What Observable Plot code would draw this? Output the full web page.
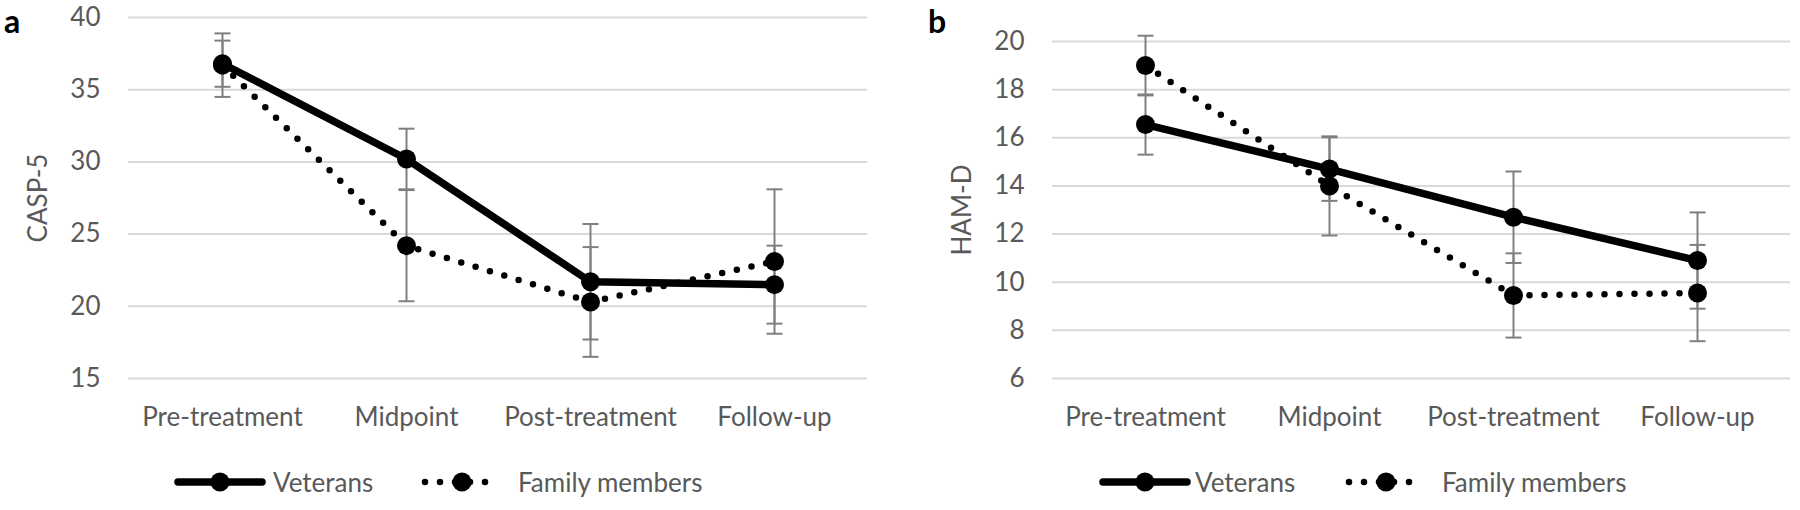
<!DOCTYPE html>
<html>
<head>
<meta charset="utf-8">
<script src="https://cdn.jsdelivr.net/npm/d3@7"></script>
<script src="https://cdn.jsdelivr.net/npm/@observablehq/plot@0.6"></script>
<style>
  html, body { margin: 0; padding: 0; background: #fff; }
  #root { position: relative; width: 1800px; height: 510px; overflow: hidden; font-family: Lato, sans-serif; }
  .panel { position: absolute; top: 0; height: 510px; }
  .letter { position: absolute; font-family: Lato, sans-serif; font-weight: 700; font-size: 32px; line-height: normal; color: #000; }
  .lg-swatch { position: absolute; top: 470px; }
  .lg-text { position: absolute; top: 469px; font-size: 26px; line-height: 26px; color: #595959; white-space: nowrap; }
</style>
</head>
<body>
<div id="root"></div>
<script>
// ---- data ----
const categories = ["Pre-treatment", "Midpoint", "Post-treatment", "Follow-up"];
const seriesNames = ["Veterans", "Family members"];

const caspTicks = [15, 20, 25, 30, 35, 40];
const caspVeterans = [36.8, 30.2, 21.7, 21.5];
const caspVeteransErr = [1.6, 2.1, 4.0, 2.7];
const caspFamily = [36.7, 24.2, 20.3, 23.1];
const caspFamilyErr = [2.2, 3.85, 3.8, 5.0];

const hamTicks = [6, 8, 10, 12, 14, 16, 18, 20];
const hamVeterans = [16.55, 14.7, 12.7, 10.9];
const hamVeteransErr = [1.25, 1.32, 1.9, 2.0];
const hamFamily = [19.0, 14.0, 9.45, 9.55];
const hamFamilyErr = [1.24, 2.06, 1.75, 2.0];

// ---- helpers ----
const capSymbol = {
  draw(context, size) {
    const r = Math.sqrt(size / Math.PI);
    context.moveTo(-r, 0);
    context.lineTo(r, 0);
  }
};

function rows(vet, vetErr, fam, famErr) {
  const out = [];
  categories.forEach((c, i) => {
    out.push({cat: c, series: seriesNames[0], v: vet[i], err: vetErr[i]});
    out.push({cat: c, series: seriesNames[1], v: fam[i], err: famErr[i]});
  });
  return out;
}

function makePanel({width, marginLeft, marginRight, marginTop, yDomain, ticks, label, data}) {
  const vet = data.filter(d => d.series === seriesNames[0]);
  const fam = data.filter(d => d.series === seriesNames[1]);
  return Plot.plot({
    width, height: 440,
    marginLeft, marginRight, marginTop, marginBottom: 62,
    style: {fontFamily: "Lato, sans-serif", fontSize: "26px", color: "#595959", background: "white", overflow: "visible"},
    x: {type: "point", domain: categories, padding: 0.5, label: null},
    y: {domain: yDomain, ticks, label: null},
    marks: [
      Plot.gridY(ticks, {stroke: "#d9d9d9", strokeOpacity: 1, strokeWidth: 2}),
      Plot.axisY(ticks, {tickSize: 0, tickPadding: 28, fontSize: 26, fill: "#595959", label: null}),
      Plot.axisX({tickSize: 0, tickPadding: 29, fontSize: 26, fill: "#595959", label: null}),
      Plot.ruleX(data, {x: "cat", y1: d => d.v - d.err, y2: d => d.v + d.err, stroke: "#7f7f7f", strokeWidth: 2}),
      Plot.dot(data, {x: "cat", y: d => d.v - d.err, symbol: capSymbol, r: 8, stroke: "#7f7f7f", strokeWidth: 2, fill: "none"}),
      Plot.dot(data, {x: "cat", y: d => d.v + d.err, symbol: capSymbol, r: 8, stroke: "#7f7f7f", strokeWidth: 2, fill: "none"}),
      Plot.line(vet, {x: "cat", y: "v", stroke: "#000", strokeWidth: 7.5, strokeLinejoin: "round", strokeLinecap: "round"}),
      Plot.line(fam, {x: "cat", y: "v", stroke: "#000", strokeWidth: 6.5, strokeDasharray: "0 15", strokeLinecap: "round"}),
      Plot.dot(data, {x: "cat", y: "v", r: 9.5, fill: "#000", stroke: "none"}),
      Plot.text([label], {frameAnchor: "left", textAnchor: "middle", lineAnchor: "middle", rotate: -90, dx: -90, fontSize: 26, fill: "#595959", text: d => d})
    ]
  });
}

function legendSwatch(kind) {
  const ns = "http://www.w3.org/2000/svg";
  const svg = document.createElementNS(ns, "svg");
  const w = kind === "solid" ? 92 : 82;
  svg.setAttribute("width", w);
  svg.setAttribute("height", 24);
  const line = document.createElementNS(ns, "line");
  line.setAttribute("x1", 4); line.setAttribute("x2", w - 4);
  line.setAttribute("y1", 12); line.setAttribute("y2", 12);
  line.setAttribute("stroke", "#000");
  line.setAttribute("stroke-linecap", "round");
  if (kind === "solid") {
    line.setAttribute("stroke-width", 7.5);
  } else {
    line.setAttribute("stroke-width", 6.5);
    line.setAttribute("stroke-dasharray", "0 15");
  }
  svg.appendChild(line);
  const c = document.createElementNS(ns, "circle");
  c.setAttribute("cx", w / 2); c.setAttribute("cy", 12); c.setAttribute("r", 9.5);
  c.setAttribute("fill", "#000");
  svg.appendChild(c);
  return svg;
}

function addLegend(container, items) {
  for (const it of items) {
    const sw = legendSwatch(it.kind);
    sw.classList.add("lg-swatch");
    sw.style.left = it.swatchLeft + "px";
    container.appendChild(sw);
    const t = document.createElement("div");
    t.className = "lg-text";
    t.style.left = it.textLeft + "px";
    t.textContent = it.label;
    container.appendChild(t);
  }
}

const root = document.getElementById("root");

// Panel a
const pa = document.createElement("div");
pa.className = "panel"; pa.style.left = "0px"; pa.style.width = "880px";
pa.appendChild(makePanel({
  width: 880, marginLeft: 128, marginRight: 13, marginTop: 17,
  yDomain: [15, 40], ticks: caspTicks, label: "CASP-5",
  data: rows(caspVeterans, caspVeteransErr, caspFamily, caspFamilyErr)
}));
addLegend(pa, [
  {kind: "solid", swatchLeft: 174, textLeft: 273, label: seriesNames[0]},
  {kind: "dotted", swatchLeft: 421, textLeft: 518, label: seriesNames[1]}
]);
const la = document.createElement("div");
la.className = "letter"; la.style.left = "4px"; la.style.top = "1px"; la.textContent = "a";
pa.appendChild(la);
root.appendChild(pa);

// Panel b
const pb = document.createElement("div");
pb.className = "panel"; pb.style.left = "900px"; pb.style.width = "900px";
pb.appendChild(makePanel({
  width: 900, marginLeft: 152, marginRight: 10, marginTop: 41,
  yDomain: [6, 20], ticks: hamTicks, label: "HAM-D",
  data: rows(hamVeterans, hamVeteransErr, hamFamily, hamFamilyErr)
}));
addLegend(pb, [
  {kind: "solid", swatchLeft: 199, textLeft: 295, label: seriesNames[0]},
  {kind: "dotted", swatchLeft: 445, textLeft: 542, label: seriesNames[1]}
]);
const lb = document.createElement("div");
lb.className = "letter"; lb.style.left = "28px"; lb.style.top = "1px"; lb.textContent = "b";
pb.appendChild(lb);
root.appendChild(pb);
</script>
</body>
</html>
